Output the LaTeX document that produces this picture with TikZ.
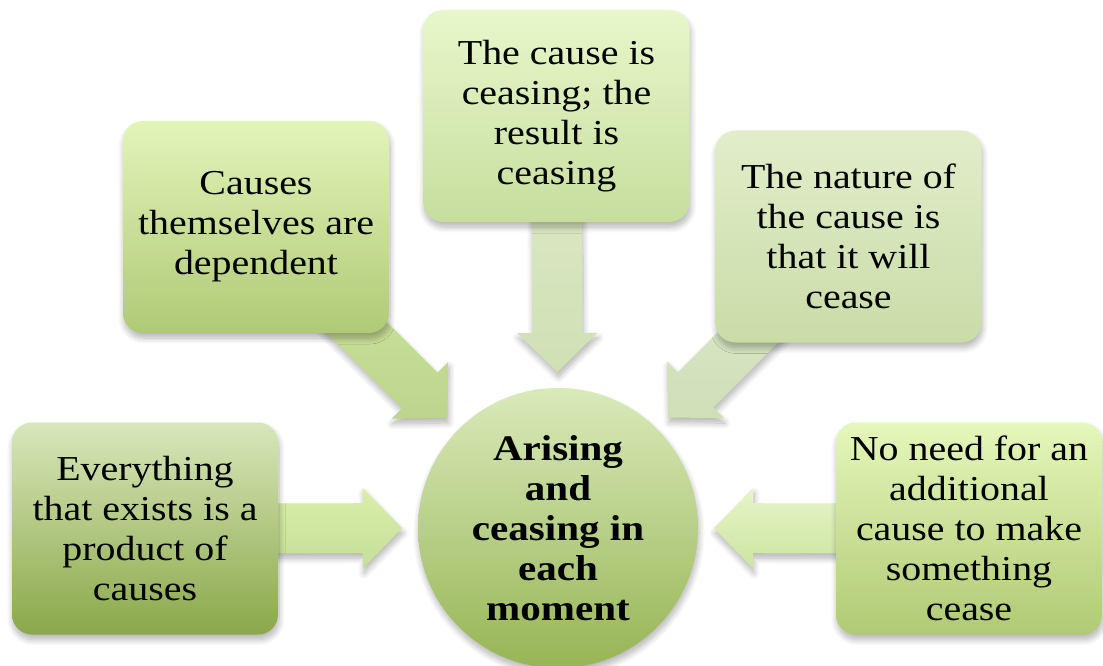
\documentclass[tikz,border=0pt]{standalone}
\usepackage{fontspec}
\setmainfont[FakeStretch=1.14]{Liberation Serif}
\usetikzlibrary{calc,shadows.blur}

\definecolor{lbTop}{HTML}{D8E7BA}
\definecolor{lbBot}{HTML}{8AA84A}
\definecolor{ulTop}{HTML}{E3F4BA}
\definecolor{ulBot}{HTML}{AFCA76}
\definecolor{tcTop}{HTML}{E8F7CB}
\definecolor{tcBot}{HTML}{C6DE9E}
\definecolor{urTop}{HTML}{E2EDCA}
\definecolor{urBot}{HTML}{CADCA8}
\definecolor{rbTop}{HTML}{E5F7BB}
\definecolor{rbBot}{HTML}{B0CA74}
\definecolor{hubTop}{HTML}{D9EABA}
\definecolor{hubBot}{HTML}{97B555}
% arrow shades
\definecolor{aLTop}{HTML}{D9EFA9}
\definecolor{aLBot}{HTML}{C5DF97}
\definecolor{aULTop}{HTML}{D3EAA5}
\definecolor{aULBot}{HTML}{BCD48B}
\definecolor{aTTop}{HTML}{E0EACB}
\definecolor{aTBot}{HTML}{D0E0B4}
\definecolor{aURTop}{HTML}{E1EBD1}
\definecolor{aURBot}{HTML}{CFDFB7}
\definecolor{aRTop}{HTML}{E6F5C8}
\definecolor{aRBot}{HTML}{CCE5A0}

\tikzset{
  soft shadow/.style={blur shadow={shadow xshift=1pt, shadow yshift=-5pt,
      shadow blur radius=6pt, shadow blur steps=10, shadow opacity=30}},
  idea/.style={rounded corners=20pt, minimum width=266pt, minimum height=212pt,
      inner sep=0pt, align=center, font=\fontsize{35}{40}\selectfont, soft shadow},
  hub/.style={circle, minimum size=280pt, inner sep=0pt, align=center,
      font=\fontsize{36}{40}\selectfont\bfseries, soft shadow},
  feed/.style={soft shadow}
}

% block arrow from the centre of node #1 to the point #2,
% shaded from #3 (top) to #4 (bottom)
\newcommand\feedarrow[4]{%
  \coordinate (#2-base) at ($(#2)!39pt!(#1)$);
  \path[feed, top color=#3, bottom color=#4]
    ($(#1)!25pt!-90:(#2)$) -- ($(#2-base)!25pt!-90:(#2)$)
    -- ($(#2-base)!40pt!-90:(#2)$) -- (#2)
    -- ($(#2-base)!40pt!90:(#2)$) -- ($(#2-base)!25pt!90:(#2)$)
    -- ($(#1)!25pt!90:(#2)$) -- cycle;
}

\begin{document}
\begin{tikzpicture}[x=1pt,y=-1pt]
  \useasboundingbox (0,0) rectangle (1103,666);

  % positions of the boxes and the hub (used by the arrows)
  \coordinate (hubc) at (558,528);
  \coordinate (lbc) at (145,528.5);
  \coordinate (ulc) at (256,227);
  \coordinate (tcc) at (556.5,116);
  \coordinate (urc) at (848.5,236.5);
  \coordinate (rbc) at (969,528.5);

  % arrow tips, a little outside the hub
  \coordinate (tipL)  at ($(hubc)!156pt!(lbc)$);
  \coordinate (tipUL) at ($(hubc)!156pt!(ulc)$);
  \coordinate (tipT)  at ($(hubc)!156pt!(tcc)$);
  \coordinate (tipUR) at ($(hubc)!156pt!(urc)$);
  \coordinate (tipR)  at ($(hubc)!156pt!(rbc)$);

  % arrows, drawn under the boxes
  \feedarrow{lbc}{tipL}{aLTop}{aLBot}
  \feedarrow{ulc}{tipUL}{aULTop}{aULBot}
  \feedarrow{tcc}{tipT}{aTTop}{aTBot}
  \feedarrow{urc}{tipUR}{aURTop}{aURBot}
  \feedarrow{rbc}{tipR}{aRTop}{aRBot}

  % boxes
  \node[idea, top color=lbTop, bottom color=lbBot] (lb) at (lbc)
    {Everything\\that exists is a\\product of\\causes};
  \node[idea, top color=ulTop, bottom color=ulBot] (ul) at (ulc)
    {Causes\\themselves are\\dependent};
  \node[idea, top color=tcTop, bottom color=tcBot] (tc) at (tcc)
    {The cause is\\ceasing; the\\result is\\ceasing};
  \node[idea, top color=urTop, bottom color=urBot] (ur) at (urc)
    {The nature of\\the cause is\\that it will\\cease};
  \node[idea, top color=rbTop, bottom color=rbBot] (rb) at (rbc)
    {No need for an\\additional\\cause to make\\something\\cease};

  % hub
  \node[hub, top color=hubTop, bottom color=hubBot] (hub) at (hubc)
    {Arising\\and\\ceasing in\\each\\moment};
\end{tikzpicture}
\end{document}
